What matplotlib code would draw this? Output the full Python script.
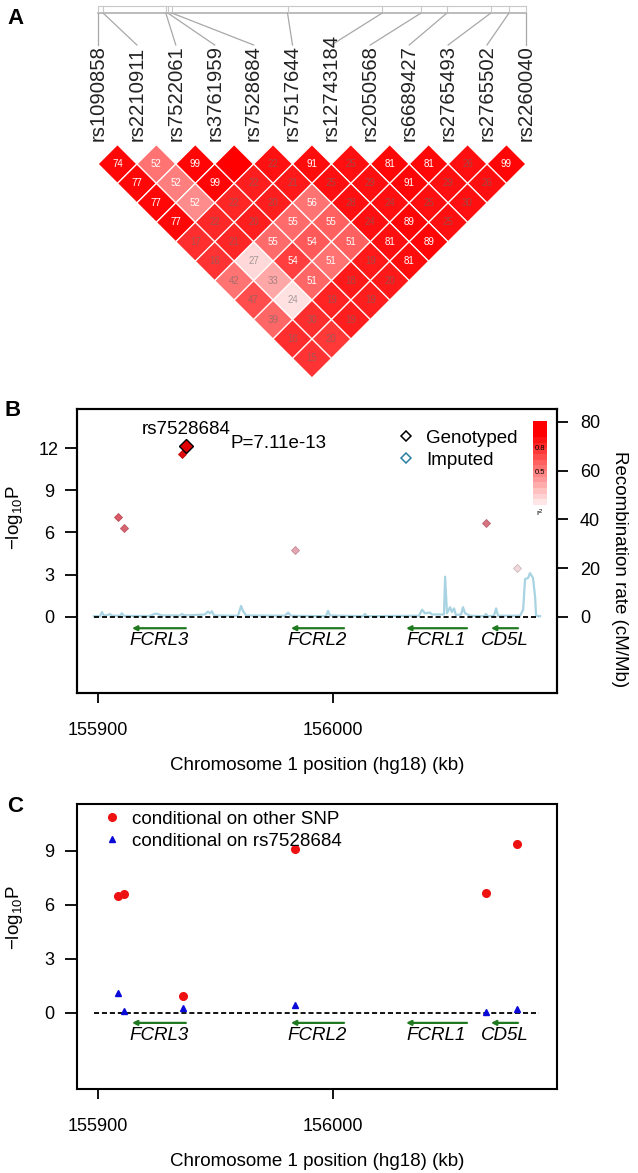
import numpy as np
import matplotlib
matplotlib.use('Agg')
import matplotlib.pyplot as plt
from matplotlib.colors import LinearSegmentedColormap
from matplotlib.lines import Line2D
from matplotlib.patches import Polygon

plt.rcParams['font.family'] = ['Liberation Sans', 'DejaVu Sans']
plt.rcParams['mathtext.fontset'] = 'custom'
plt.rcParams['mathtext.rm'] = 'Liberation Sans'
plt.rcParams['mathtext.it'] = 'Liberation Sans:italic'

# ---- data ----
snps = ['rs1090858', 'rs2210911', 'rs7522061', 'rs3761959', 'rs7528684', 'rs7517644',
        'rs12743184', 'rs2050568', 'rs6689427', 'rs2765493', 'rs2765502', 'rs2260040']
snp_kb = [155908.5, 155910.5, 155935.4, 155936.2, 155937.8, 155983.7,
          156021.3, 156036.7, 156047.0, 156064.4, 156071.6, 156078.3]

# LD values by distance between SNPs (row k = pairs (i, i+k)); None = no number shown
ld_text = [
    [74, 52, 99, None, 22, 91, 25, 81, 81, 26, 99],
    [77, 52, 99, 22, 21, 25, 29, 91, 29, 26],
    [77, 52, 22, 20, 56, 28, 24, 25, 30],
    [77, 22, 20, 55, 55, 24, 89, 25],
    [17, 21, 55, 54, 51, 81, 89],
    [16, 27, 54, 51, 19, 81],
    [42, 33, 51, 18, 20],
    [47, 24, 19, 19],
    [39, 30, 19],
    [16, 20],
    [15],
]
# colour strength of each cell (0 white .. 1 red)
ld_shade = [
    [0.97, 0.55, 0.98, 1.0, 0.93, 0.95, 0.94, 0.97, 0.97, 0.94, 0.98],
    [0.97, 0.50, 0.98, 0.88, 0.90, 0.94, 0.94, 0.98, 0.94, 0.94],
    [0.97, 0.45, 0.85, 0.88, 0.55, 0.94, 0.94, 0.94, 0.94],
    [0.97, 0.84, 0.88, 0.58, 0.62, 0.94, 0.98, 0.94],
    [0.82, 0.85, 0.58, 0.65, 0.62, 0.94, 0.98],
    [0.80, 0.15, 0.75, 0.55, 0.90, 0.95],
    [0.55, 0.35, 0.60, 0.90, 0.90],
    [0.70, 0.12, 0.86, 0.88],
    [0.60, 0.82, 0.88],
    [0.82, 0.78],
    [0.80],
]

# association results (panel B)
lead_name = 'rs7528684'
lead_kb = 155937.4
lead_p = 7.11e-13
b_kb = [155908.5, 155911.0, 155935.7, 155983.8, 156064.9, 156078.3]
b_logp = [7.1, 6.3, 11.6, 4.75, 6.66, 3.5]
b_r2 = [0.62, 0.58, 0.95, 0.30, 0.52, 0.08]

# recombination rate (cM/Mb)
rec_kb = [155898.3, 155900.9, 155901.7, 155902.6, 155904.3, 155905.1, 155906.0, 155909.4,
          155910.2, 155911.1, 155922.1, 155924.3, 155925.1, 155927.2, 155934.9, 155935.7,
          155937.0, 155941.3, 155945.5, 155946.8, 155947.7, 155948.5, 155949.4, 155959.6,
          155960.9, 155961.7, 155963.0, 155979.6, 155980.9, 155982.1, 155997.0, 155997.9,
          155998.7, 156012.8, 156013.6, 156014.5, 156036.6, 156037.9, 156039.1, 156041.3,
          156042.1, 156046.0, 156047.2, 156047.7, 156048.5, 156049.8, 156050.6, 156051.5,
          156052.3, 156054.5, 156055.3, 156056.2, 156058.3, 156064.3, 156065.1, 156066.0,
          156068.5, 156069.4, 156070.2, 156079.6, 156080.9, 156081.7, 156083.0, 156083.8,
          156085.1, 156086.0, 156086.4, 156088.1]
rec_rate = [0.3, 0.3, 2.0, 0.5, 0.8, 1.2, 0.5, 0.5,
            1.5, 0.4, 0.4, 1.3, 1.3, 0.6, 0.6, 1.2,
            0.6, 0.8, 1.0, 2.2, 1.5, 2.3, 0.6, 0.5,
            4.5, 2.5, 0.6, 0.5, 1.8, 0.5, 0.3, 2.5,
            0.6, 0.3, 1.2, 0.3, 0.5, 3.0, 1.5, 1.8,
            1.0, 1.0, 1.0, 16.5, 1.5, 4.0, 2.0, 3.5,
            0.8, 1.0, 4.0, 1.5, 0.5, 0.3, 1.2, 0.3,
            0.5, 3.5, 0.5, 0.5, 3.0, 15.5, 16.0, 18.0,
            16.0, 8.0, 0.5, 0.3]

# conditional analysis (panel C)
c_kb = [155908.5, 155911.0, 155936.0, 155983.8, 156064.9, 156078.3]
c_other = [6.5, 6.6, 0.94, 9.1, 6.65, 9.4]
c_lead = [1.1, 0.1, 0.25, 0.45, 0.05, 0.2]

genes = ['FCRL3', 'FCRL2', 'FCRL1', 'CD5L']
gene_start = [155914.5, 155982.1, 156031.1, 156067.2]
gene_end = [155937.4, 156004.7, 156057.0, 156078.7]

red_cmap = LinearSegmentedColormap.from_list('wr', ['#ffffff', '#ff0000'])
pt_cmap = LinearSegmentedColormap.from_list('pt', ['#f6eaea', '#d87888', '#e00000'])

W, H = 638, 1173
fig = plt.figure(figsize=(W / 100, H / 100), dpi=100)

# ---------------- panel A : LD map ----------------
axA = fig.add_axes([0, 1 - 380 / H, 1, 380 / H])
axA.set_xlim(0, W)
axA.set_ylim(380, 0)
axA.axis('off')

x0, step = 98, 38.9
half = step / 2
ytop = 164 - half
snp_x = [x0 + step * i for i in range(len(snps))]

# physical map box and connectors
kb_min, kb_max = snp_kb[0], snp_kb[-1]
phys_x = [snp_x[0] + (k - kb_min) / (kb_max - kb_min) * (snp_x[-1] - snp_x[0]) for k in snp_kb]
axA.plot([snp_x[0], snp_x[-1]], [6, 6], color='#c8c8c8', lw=0.8)
axA.plot([snp_x[0], snp_x[-1]], [13, 13], color='#b0b0b0', lw=1.2)
for px, sx, name in zip(phys_x, snp_x, snps):
    axA.plot([px, px], [6, 13], color='#c8c8c8', lw=0.8)
    axA.plot([px, sx], [13, 45], color='#a8a8a8', lw=0.9)
    axA.text(sx, 141, name, rotation=90, ha='center', va='bottom', fontsize=14.6, color='#222222')

for k, (vals, shades) in enumerate(zip(ld_text, ld_shade)):
    for i, (v, s) in enumerate(zip(vals, shades)):
        j = i + k + 1
        cx = x0 + step * (i + j) / 2
        cy = ytop + half * (j - i)
        poly = Polygon([(cx - half, cy), (cx, cy - half), (cx + half, cy), (cx, cy + half)],
                       closed=True, facecolor=red_cmap(s), edgecolor='white', lw=0.9)
        axA.add_patch(poly)
        if v is not None:
            if v >= 50:
                axA.text(cx, cy, str(v), ha='center', va='center', fontsize=7, color='white')
            else:
                axA.text(cx, cy, str(v), ha='center', va='center', fontsize=7,
                         color='#6a6a6a', alpha=0.6)

fig.text(15 / W, 1 - 19 / H, 'A', fontsize=16, fontweight='bold', ha='center', va='center')
fig.text(13 / W, 1 - 411 / H, 'B', fontsize=16, fontweight='bold', ha='center', va='center')
fig.text(15 / W, 1 - 807 / H, 'C', fontsize=16, fontweight='bold', ha='center', va='center')

xlim = (155891.1, 156095.3)


def locus_axes(top, bottom, ylim, yticks, gene_y, label_y, ylab_y):
    ax = fig.add_axes([77 / W, 1 - bottom / H, 480 / W, (bottom - top) / H])
    ax.set_xlim(*xlim)
    ax.set_ylim(*ylim)
    for s in ax.spines.values():
        s.set_linewidth(1.5)
    ax.set_xticks([155900, 156000])
    ax.set_xticklabels(['155900', '156000'])
    ax.set_yticks(yticks)
    ax.tick_params(axis='x', direction='out', length=7.2, width=1.3, labelsize=13, pad=14)
    ax.tick_params(axis='y', direction='out', length=8.6, width=1.3, labelsize=13, pad=11.5)
    for lab in ax.get_yticklabels():
        lab.set_ha('center')
    ax.plot([155898.3, 156087.5], [0, 0], color='black', lw=1.3, ls='--', dashes=(2.8, 1.6), zorder=2)
    for g, g0, g1 in zip(genes, gene_start, gene_end):
        ax.annotate('', xy=(g0, gene_y), xytext=(g1, gene_y),
                    arrowprops=dict(arrowstyle='-|>', color='#1f7a1f', lw=1.6,
                                    mutation_scale=7, shrinkA=0, shrinkB=0))
        ax.text((g0 + g1) / 2, label_y, g, style='italic', ha='center', va='center', fontsize=13.5)
    ax.set_xlabel('Chromosome 1 position (hg18) (kb)', fontsize=13.5, labelpad=12.5)
    ax.set_ylabel(r'$\mathrm{-log_{10}P}$', fontsize=13.5)
    ax.yaxis.set_label_coords(-0.108, ylab_y)
    return ax


# ---------------- panel B ----------------
axB = locus_axes(409, 693, (-5.4, 14.77), [0, 3, 6, 9, 12], -0.8, -1.65, 0.616)
ax2 = axB.twinx()
ax2.set_ylim(-31.2, 85.3)
ax2.set_yticks([0, 20, 40, 60, 80])
ax2.tick_params(direction='out', length=8, width=1.3, labelsize=13, pad=8.5)
for s in ax2.spines.values():
    s.set_linewidth(1.5)
ax2.plot(rec_kb, rec_rate, color='#a8d3e2', lw=1.6)
ax2.set_ylabel('Recombination rate (cM/Mb)', rotation=270, fontsize=13.5)
ax2.yaxis.set_label_coords(1.148, 0.437)
axB.set_zorder(ax2.get_zorder() + 1)
axB.patch.set_visible(False)

for x, y, r in zip(b_kb, b_logp, b_r2):
    c = pt_cmap(r)
    axB.plot(x, y, marker='D', ls='', ms=4.3, mfc=c, mec=tuple(0.85 * np.array(c[:3])), mew=0.6, zorder=4)
lead_logp = -np.log10(lead_p)
axB.plot(lead_kb, lead_logp, marker='D', ls='', ms=7.5, mfc='#e00000', mec='black', mew=1.0, zorder=5)
axB.text(lead_kb, lead_logp + 1.15, lead_name, ha='center', va='center', fontsize=13.5)
axB.text(lead_kb + 19.2, lead_logp + 0.2, 'P=%.2fe-13' % (lead_p * 1e13), ha='left', va='center', fontsize=13.5)

leg_b = [Line2D([], [], marker='D', ls='', mfc='none', mec='black', ms=5.5, mew=1.1),
         Line2D([], [], marker='D', ls='', mfc='none', mec='#2b7fa0', ms=5.5, mew=1.1)]
axB.legend(leg_b, ['Genotyped', 'Imputed'], loc='upper left', bbox_to_anchor=(0.665, 0.927),
           frameon=False, fontsize=13.5, handlelength=1.0, handletextpad=0.6,
           labelspacing=0.26, borderaxespad=0, borderpad=0)

cax = axB.inset_axes([0.95, 0.662, 0.029, 0.296])
bar_vals = np.linspace(0.1, 1.15, 15)
cax.imshow(np.minimum(bar_vals, 1)[:, None], cmap=red_cmap, vmin=0, vmax=1, aspect='auto',
           origin='lower', extent=[0, 1, 0.1, 1.15])
cax.set_xlim(0, 1)
cax.set_ylim(0.1, 1.15)
cax.axis('off')
cax.text(0.5, 0.8, '0.8', ha='center', va='center', fontsize=5.5)
cax.text(0.5, 0.5, '0.5', ha='center', va='center', fontsize=5.5)
cax.text(0.5, 0.0, r'r$^2$', ha='center', va='center', fontsize=6, clip_on=False)

# ---------------- panel C ----------------
axC = locus_axes(804, 1089, (-4.22, 11.6), [0, 3, 6, 9], -0.55, -1.25, 0.6)
axC.plot(c_kb, c_other, marker='o', ls='', ms=5.5, color='#ee1111', zorder=4,
         label='conditional on other SNP')
axC.plot(c_kb, c_lead, marker='^', ls='', ms=4.8, color='#0a0ad8', zorder=4,
         label='conditional on ' + lead_name)
axC.legend(loc='upper left', bbox_to_anchor=(0.053, 0.977), frameon=False, fontsize=13.5,
           handlelength=1.0, handletextpad=0.55, labelspacing=0.26, borderaxespad=0, borderpad=0)

fig.savefig('out.png', dpi=100)
